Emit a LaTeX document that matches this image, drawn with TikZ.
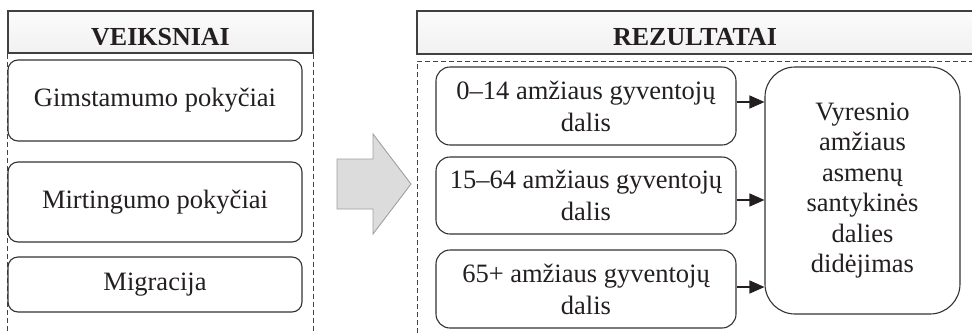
\documentclass[tikz,border=0pt]{standalone}
\usepackage{fontspec}
\setmainfont{Liberation Serif}
\usetikzlibrary{arrows.meta}
\definecolor{ink}{HTML}{231F20}
\definecolor{frame}{HTML}{333333}
\definecolor{hdrline}{HTML}{404040}
\definecolor{dashgray}{HTML}{444444}
\definecolor{bigarrowfill}{HTML}{DCDCDC}
\definecolor{bigarrowline}{HTML}{A0A0A0}
\tikzset{
  hdr/.style={draw=hdrline, line width=1.2pt, top color=gray!3, bottom color=gray!11,
    inner sep=0pt},
  hdrtext/.style={font=\fontsize{26}{30}\selectfont\bfseries, text=ink, inner sep=0pt},
  factor/.style={draw=frame, line width=1.1pt, rounded corners=10pt, fill=white,
    minimum width=294pt, inner sep=0pt, text=ink,
    font=\fontsize{26.5}{31}\selectfont, align=center},
  group/.style={draw=frame, line width=1.1pt, rounded corners=14pt, fill=white,
    minimum width=300pt, minimum height=78pt, inner sep=0pt, text=ink,
    font=\fontsize{26.5}{32}\selectfont, align=center},
  outcome/.style={draw=frame, line width=1.1pt, rounded corners=30pt, fill=white,
    minimum width=195pt, minimum height=247pt, inner sep=0pt, text=ink,
    font=\fontsize{26.5}{30.5}\selectfont, align=center},
  frameline/.style={draw=dashgray, line width=1pt, dash pattern=on 5pt off 3pt},
  link/.style={draw=ink, line width=1.4pt, -{Triangle[length=15pt,width=13pt]}}
}
\begin{document}
\begin{tikzpicture}[x=1pt,y=-1pt]
\useasboundingbox (0,0) rectangle (972,333);
\clip (0,0) rectangle (972,333);

% headers
\node[hdr, minimum width=305pt, minimum height=42pt] (hdrL) at (160.5,32) {};
\node[hdr, minimum width=556pt, minimum height=43pt] (hdrR) at (695,32.5) {};
\begin{scope}
  \clip (0,0) rectangle (972,44);
  \node[hdrtext, anchor=base] (tL) at (160.5,45.5) {VEIKSNIAI};
  \node[hdrtext, anchor=base] (tR) at (695,45.5) {REZULTATAI};
\end{scope}

% dashed group frames
\coordinate (lb) at (8,333);
\coordinate (rb) at (313,333);
\draw[frameline] (hdrL.south west) -- (hdrL.south west |- lb);
\draw[frameline] (hdrL.south east) -- (hdrL.south east |- rb);
\coordinate (rc) at (417,61);
\coordinate (rd) at (417,333);
\coordinate (re) at (980,61);
\draw[frameline] (rd) -- (rc) -- (re);

% factors
\node[factor, minimum height=81pt] (birth) at (155,100.5) {Gimstamumo pokyčiai};
\node[factor, minimum height=80pt] (death) at (155,202) {Mirtingumo pokyčiai};
\node[factor, minimum height=55pt] (migr) at (155,284.5) {Migracija};

% transition arrow
\filldraw[fill=bigarrowfill, draw=bigarrowline, line width=0.9pt]
  (337,159) -- (373,159) -- (373,134) -- (411,184) -- (373,234) -- (373,209) -- (337,209) -- cycle;

% age groups
\node[group] (young) at (586,106) {0–14 amžiaus gyventojų\\dalis};
\node[group, minimum height=77pt] (work) at (586,195.5) {15–64 amžiaus gyventojų\\dalis};
\node[group] (old) at (586,289) {65+ amžiaus gyventojų\\dalis};

% outcome
\node[outcome] (ageing) at (862.5,190.5)
  {Vyresnio\\amžiaus\\asmenų\\santykinės\\dalies\\didėjimas};

% links
\draw[link] ([yshift=4pt]young.east) -- ([yshift=4pt]young.east -| ageing.west);
\draw[link] ([yshift=-4.5pt]work.east) -- ([yshift=-4.5pt]work.east -| ageing.west);
\draw[link] ([yshift=2pt]old.east) -- ([yshift=2pt]old.east -| ageing.west);
\end{tikzpicture}
\end{document}
